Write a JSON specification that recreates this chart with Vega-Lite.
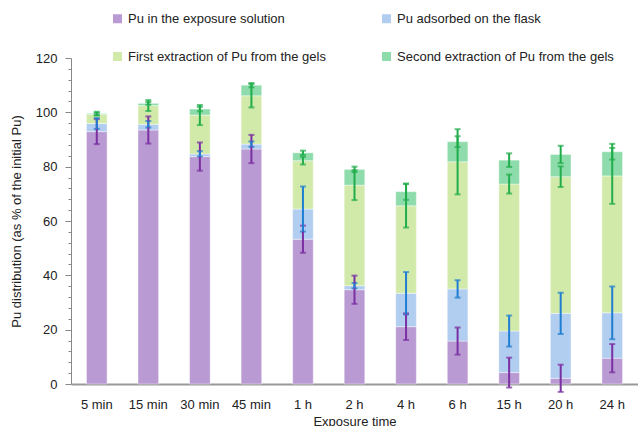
{
  "$schema": "https://vega.github.io/schema/vega-lite/v6.json",
  "width": 567,
  "height": 326,
  "autosize": {"type": "none"},
  "padding": {"left": 71, "top": 58, "right": 0, "bottom": 42},
  "background": "white",
  "config": {
    "font": "Liberation Sans",
    "view": {"stroke": null}
  },
  "data": {
    "values": [
      {"time": "5 min", "series": "Pu in the exposure solution", "order": 1, "value": 92.9, "err": 4.6},
      {"time": "5 min", "series": "Pu adsorbed on the flask", "order": 2, "value": 3.0, "err": 2.0},
      {"time": "5 min", "series": "First extraction of Pu from the gels", "order": 3, "value": 3.4, "err": 0.5},
      {"time": "5 min", "series": "Second extraction of Pu from the gels", "order": 4, "value": 0.3, "err": 0.6},
      {"time": "15 min", "series": "Pu in the exposure solution", "order": 1, "value": 93.5, "err": 5.0},
      {"time": "15 min", "series": "Pu adsorbed on the flask", "order": 2, "value": 2.1, "err": 1.2},
      {"time": "15 min", "series": "First extraction of Pu from the gels", "order": 3, "value": 6.9, "err": 2.0},
      {"time": "15 min", "series": "Second extraction of Pu from the gels", "order": 4, "value": 0.8, "err": 0.5},
      {"time": "30 min", "series": "Pu in the exposure solution", "order": 1, "value": 83.7, "err": 5.2},
      {"time": "30 min", "series": "Pu adsorbed on the flask", "order": 2, "value": 1.0, "err": 1.0},
      {"time": "30 min", "series": "First extraction of Pu from the gels", "order": 3, "value": 14.3, "err": 3.7},
      {"time": "30 min", "series": "Second extraction of Pu from the gels", "order": 4, "value": 2.2, "err": 0.8},
      {"time": "45 min", "series": "Pu in the exposure solution", "order": 1, "value": 86.5, "err": 5.2},
      {"time": "45 min", "series": "Pu adsorbed on the flask", "order": 2, "value": 1.8, "err": 1.0},
      {"time": "45 min", "series": "First extraction of Pu from the gels", "order": 3, "value": 17.8, "err": 4.3},
      {"time": "45 min", "series": "Second extraction of Pu from the gels", "order": 4, "value": 3.9, "err": 0.8},
      {"time": "1 h", "series": "Pu in the exposure solution", "order": 1, "value": 53.3, "err": 5.0},
      {"time": "1 h", "series": "Pu adsorbed on the flask", "order": 2, "value": 11.1, "err": 8.3},
      {"time": "1 h", "series": "First extraction of Pu from the gels", "order": 3, "value": 17.8, "err": 1.4},
      {"time": "1 h", "series": "Second extraction of Pu from the gels", "order": 4, "value": 2.9, "err": 0.8},
      {"time": "2 h", "series": "Pu in the exposure solution", "order": 1, "value": 34.7, "err": 5.2},
      {"time": "2 h", "series": "Pu adsorbed on the flask", "order": 2, "value": 1.5, "err": 1.0},
      {"time": "2 h", "series": "First extraction of Pu from the gels", "order": 3, "value": 37.0, "err": 5.5},
      {"time": "2 h", "series": "Second extraction of Pu from the gels", "order": 4, "value": 5.8, "err": 1.0},
      {"time": "4 h", "series": "Pu in the exposure solution", "order": 1, "value": 21.1, "err": 4.9},
      {"time": "4 h", "series": "Pu adsorbed on the flask", "order": 2, "value": 12.3, "err": 7.8},
      {"time": "4 h", "series": "First extraction of Pu from the gels", "order": 3, "value": 32.2, "err": 8.0},
      {"time": "4 h", "series": "Second extraction of Pu from the gels", "order": 4, "value": 5.2, "err": 3.0},
      {"time": "6 h", "series": "Pu in the exposure solution", "order": 1, "value": 15.8, "err": 5.0},
      {"time": "6 h", "series": "Pu adsorbed on the flask", "order": 2, "value": 19.2, "err": 3.2},
      {"time": "6 h", "series": "First extraction of Pu from the gels", "order": 3, "value": 46.8, "err": 12.0},
      {"time": "6 h", "series": "Second extraction of Pu from the gels", "order": 4, "value": 7.4, "err": 2.0},
      {"time": "15 h", "series": "Pu in the exposure solution", "order": 1, "value": 4.2, "err": 5.5},
      {"time": "15 h", "series": "Pu adsorbed on the flask", "order": 2, "value": 15.3, "err": 5.7},
      {"time": "15 h", "series": "First extraction of Pu from the gels", "order": 3, "value": 54.1, "err": 3.5},
      {"time": "15 h", "series": "Second extraction of Pu from the gels", "order": 4, "value": 8.8, "err": 2.5},
      {"time": "20 h", "series": "Pu in the exposure solution", "order": 1, "value": 2.1, "err": 5.0},
      {"time": "20 h", "series": "Pu adsorbed on the flask", "order": 2, "value": 23.9, "err": 7.6},
      {"time": "20 h", "series": "First extraction of Pu from the gels", "order": 3, "value": 50.3, "err": 3.8},
      {"time": "20 h", "series": "Second extraction of Pu from the gels", "order": 4, "value": 8.2, "err": 3.2},
      {"time": "24 h", "series": "Pu in the exposure solution", "order": 1, "value": 9.5, "err": 5.2},
      {"time": "24 h", "series": "Pu adsorbed on the flask", "order": 2, "value": 16.7, "err": 9.7},
      {"time": "24 h", "series": "First extraction of Pu from the gels", "order": 3, "value": 50.4, "err": 10.3},
      {"time": "24 h", "series": "Second extraction of Pu from the gels", "order": 4, "value": 8.9, "err": 2.9}
    ]
  },
  "transform": [
    {"stack": "value", "groupby": ["time"], "sort": [{"field": "order", "order": "ascending"}], "as": ["y0", "y1"]}
  ],
  "encoding": {
    "x": {
      "field": "time",
      "type": "nominal",
      "sort": ["5 min", "15 min", "30 min", "45 min", "1 h", "2 h", "4 h", "6 h", "15 h", "20 h", "24 h"],
      "scale": {"paddingInner": 0.6, "paddingOuter": 0.3},
      "axis": {
        "title": "Exposure time",
        "titleFont": "Liberation Sans",
        "titleFontSize": 13,
        "titleFontWeight": "normal",
        "titleColor": "#222",
        "titlePadding": 4,
        "labelAngle": 0,
        "labelFont": "Liberation Sans",
        "labelFontSize": 13,
        "labelColor": "#222",
        "labelPadding": 14,
        "ticks": false,
        "domainColor": "#999",
        "domainWidth": 2
      }
    },
    "y": {
      "field": "y1",
      "type": "quantitative",
      "scale": {"domain": [0, 120], "nice": false},
      "axis": {
        "title": "Pu distribution (as % of the initial Pu)",
        "titleFont": "Liberation Sans",
        "titleFontSize": 13,
        "titleFontWeight": "normal",
        "titleColor": "#222",
        "titlePadding": 12,
        "values": [0, 4, 8, 12, 16, 20, 24, 28, 32, 36, 40, 44, 48, 52, 56, 60, 64, 68, 72, 76, 80, 84, 88, 92, 96, 100, 104, 108, 112, 116, 120],
        "labelExpr": "datum.value % 20 == 0 ? datum.label : ''",
        "tickSize": {"condition": {"test": "datum.value % 20 == 0", "value": 6}, "value": 3},
        "labelPadding": 8,
        "labelFont": "Liberation Sans",
        "labelFontSize": 13,
        "labelColor": "#222",
        "labelOverlap": false,
        "labelFlush": false,
        "grid": false,
        "domainColor": "#888",
        "tickColor": "#888"
      }
    }
  },
  "layer": [
    {
      "mark": {"type": "bar", "stroke": "#ffffff", "strokeWidth": 0.6, "strokeOpacity": 0.7},
      "encoding": {
        "y2": {"field": "y0"},
        "color": {
          "field": "series",
          "type": "nominal",
          "sort": ["Pu in the exposure solution", "Pu adsorbed on the flask", "First extraction of Pu from the gels", "Second extraction of Pu from the gels"],
          "scale": {
            "domain": ["Pu in the exposure solution", "Pu adsorbed on the flask", "First extraction of Pu from the gels", "Second extraction of Pu from the gels"],
            "range": ["#b99ad2", "#b1cdef", "#d2eaa9", "#8edcab"]
          },
          "legend": {
            "title": null,
            "orient": "none",
            "direction": "horizontal",
            "legendX": 40,
            "legendY": -46,
            "columns": 2,
            "columnPadding": 54,
            "rowPadding": 24,
            "symbolType": "square",
            "symbolSize": 81,
            "symbolStrokeWidth": 0,
            "labelFont": "Liberation Sans",
            "labelFontSize": 13,
            "labelColor": "#222",
            "labelOffset": 4,
            "labelLimit": 400
          }
        },
        "order": {"field": "order", "type": "quantitative"}
      }
    },
    {
      "mark": {"type": "errorbar", "ticks": {"size": 6, "thickness": 2}, "thickness": 2},
      "encoding": {
        "yError": {"field": "err"},
        "color": {
          "field": "series",
          "type": "nominal",
          "scale": {
            "domain": ["Pu in the exposure solution", "Pu adsorbed on the flask", "First extraction of Pu from the gels", "Second extraction of Pu from the gels"],
            "range": ["#7a2fa3", "#1f7ed2", "#21ad4b", "#21ad4b"]
          },
          "legend": null
        }
      }
    }
  ],
  "resolve": {"scale": {"color": "independent"}}
}
